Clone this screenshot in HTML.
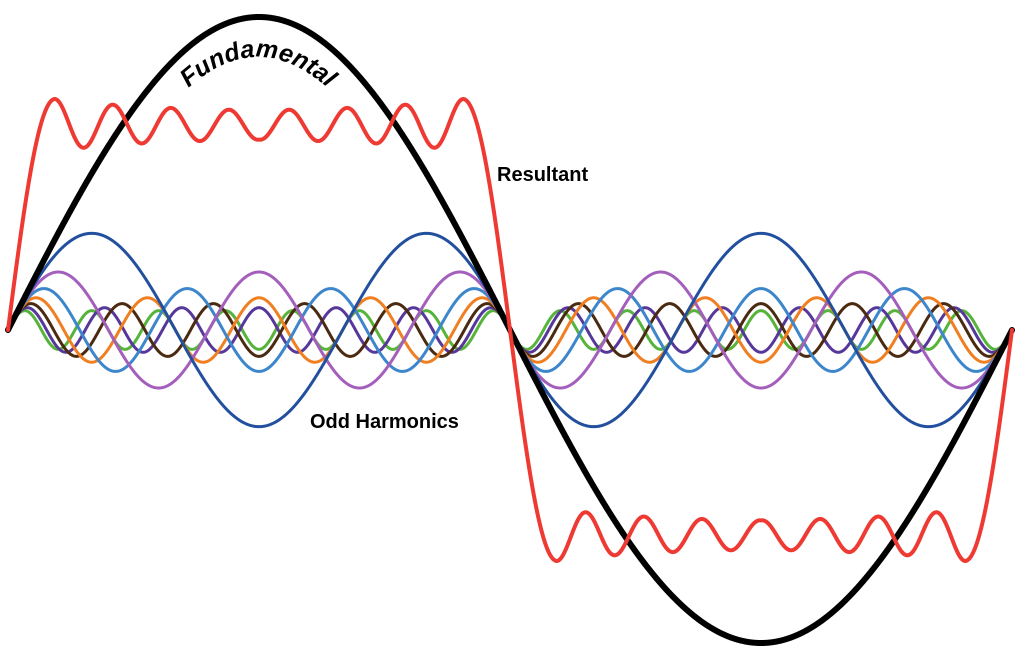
<!DOCTYPE html>
<html><head><meta charset="utf-8"><style>
html,body{margin:0;padding:0;background:#fff;width:1024px;height:663px;overflow:hidden}
svg{display:block}
text{font-family:"Liberation Sans",sans-serif;font-weight:bold;fill:#000}
</style></head><body>
<svg id="s" width="1024" height="663" viewBox="0 0 1024 663">
<g id="g" fill="none" stroke-linecap="round" stroke-linejoin="round"></g>
<defs><path id="arc" d="M176,100 Q258,14 340,100"/></defs>
<text font-size="25" font-style="italic"><textPath href="#arc" startOffset="50%" text-anchor="middle">Fundamental</textPath></text>
<text x="497" y="181" font-size="20">Resultant</text>
<text x="310" y="428" font-size="20">Odd Harmonics</text>
</svg>
<script>
var g=document.getElementById('g');
var x0=8,x1=1012,cy=330;
function path(f){var d='';for(var i=0;i<=2000;i++){var x=x0+(x1-x0)*i/2000;var t=2*Math.PI*i/2000;d+=(i?'L':'M')+x.toFixed(2)+','+(cy-f(t,x)).toFixed(2);}return d;}
function add(f,c,w){var p=document.createElementNS('http://www.w3.org/2000/svg','path');p.setAttribute('d',path(f));p.setAttribute('stroke',c);p.setAttribute('stroke-width',w);g.appendChild(p);}
var cols={3:'#22509e',5:'#a45fbc',7:'#3d86cc',9:'#f07f22',11:'#4a2a10',13:'#56389a',15:'#56b43a'};
[15,13,11,9,7,5,3].forEach(function(n){add(function(t){return 290/n*Math.sin(n*t)},cols[n],3)});
add(function(t){return 313*Math.sin(t)},'#000',6);
var L=502;
function half(u){var d=Math.min(u,L-u);if(d<47)return 231*Math.sin(Math.PI/2*d/47);
var a=13+13*Math.exp(-(d-47)/100);var v=(u<L/2)?(u-47):(L-47-u);return 205+a*Math.cos(2*Math.PI*v/58);}
add(function(t,x){var u=x-x0;if(u<=L)return half(u);return -half(u-L);},'#ee3a33',4);
</script>
</body></html>
